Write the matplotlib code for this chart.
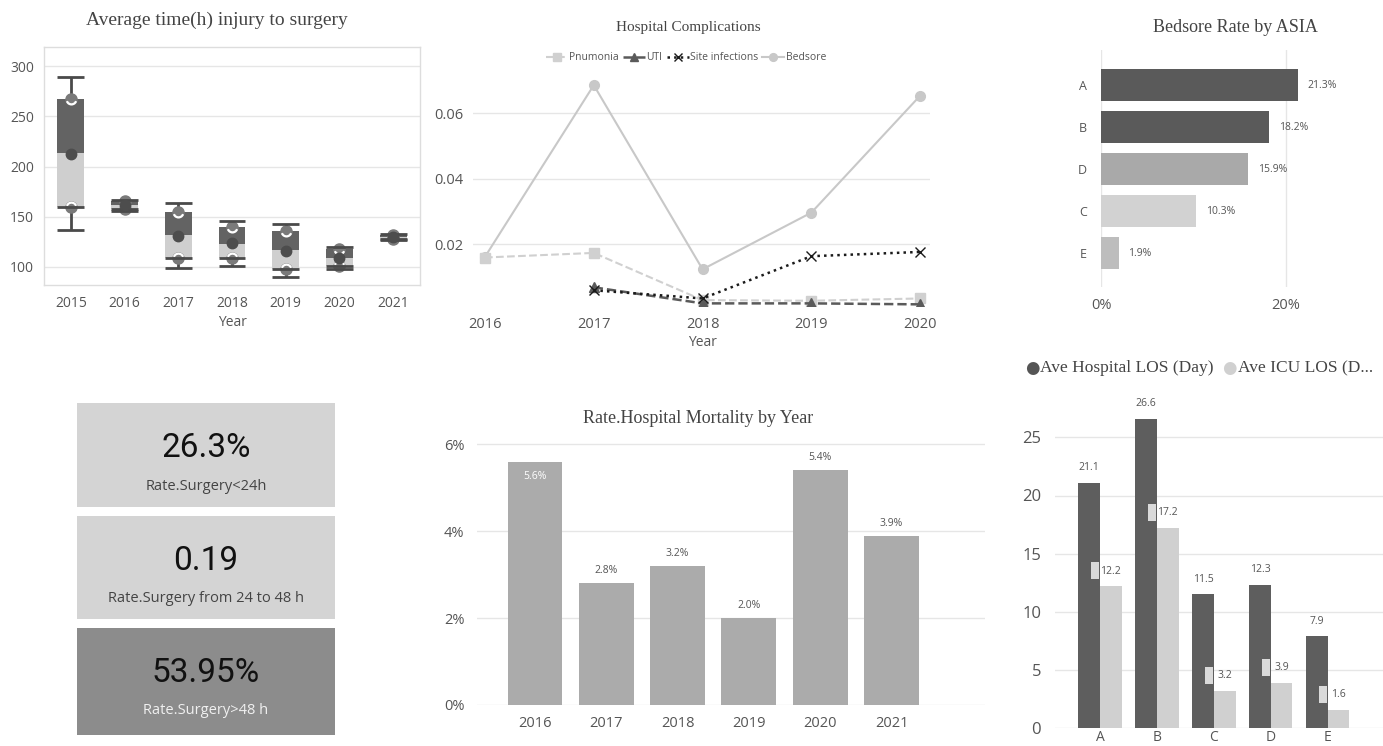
import numpy as np
import matplotlib
matplotlib.use("Agg")
import matplotlib.pyplot as plt
from matplotlib.patches import Rectangle
from matplotlib.path import Path

# ---------------- data ----------------
box_years = ['2015', '2016', '2017', '2018', '2019', '2020', '2021']
box_whislo = [137, 156, 99, 101, 90, 98, 127]
box_q1 = [160, 158, 109, 109, 98, 101, 128]
box_med = [213, 162, 132, 123, 117, 109, 130]
box_q3 = [267, 166, 155, 140, 136, 118, 132]
box_whishi = [289, 167, 164, 146, 143, 120, 133]
box_mean = [212, 162, 131, 124, 116, 109, 130]

comp_years = [2016, 2017, 2018, 2019, 2020]
pnumonia = [0.0160, 0.0174, 0.0030, 0.0028, 0.0035]
uti = [np.nan, 0.0069, 0.0020, 0.0020, 0.0017]
site_inf = [np.nan, 0.0060, 0.0035, 0.0164, 0.0177]
bedsore = [0.0162, 0.0686, 0.0124, 0.0297, 0.0654]

asia_cats = ['A', 'B', 'D', 'C', 'E']
asia_rates = [0.213, 0.182, 0.159, 0.103, 0.019]

kpi_values = ['26.3%', '0.19', '53.95%']
kpi_labels = ['Rate.Surgery<24h', 'Rate.Surgery from 24 to 48 h', 'Rate.Surgery>48 h']

mort_years = ['2016', '2017', '2018', '2019', '2020', '2021']
mort_rates = [0.056, 0.028, 0.032, 0.020, 0.054, 0.039]

los_cats = ['A', 'B', 'C', 'D', 'E']
los_hosp = [21.1, 26.6, 11.5, 12.3, 7.9]
los_icu = [12.2, 17.2, 3.2, 3.9, 1.6]

# ---------------- layout helpers ----------------
W, H = 1383, 746
fig = plt.figure(figsize=(W / 100, H / 100), dpi=100)
fig.patch.set_facecolor('white')

def px(l, t, r, b):
    return [l / W, 1 - b / H, (r - l) / W, (b - t) / H]

def fx(x):
    return x / W

def fy(y):
    return 1 - y / H

TITLE_FONT = ['Liberation Serif', 'DejaVu Serif']
SANS = ['Open Sans', 'DejaVu Sans']
TICK_C = '#555555'
GRID_C = '#e6e6e6'
DARK = '#636363'
LIGHT = '#cfcfcf'

def clean(ax):
    for s in ax.spines.values():
        s.set_visible(False)
    ax.tick_params(length=0, colors=TICK_C)

# ---------------- box plot ----------------
ax1 = fig.add_axes(px(44, 47, 420, 285))
clean(ax1)
for s in ax1.spines.values():
    s.set_visible(True)
    s.set_color('#dddddd')
    s.set_linewidth(1.0)
ax1.set_xlim(-0.5, 6.5)
ax1.set_ylim(82, 319)
ax1.set_yticks([100, 150, 200, 250, 300])
ax1.yaxis.grid(True, color=GRID_C, lw=1)
ax1.set_axisbelow(True)
x = np.arange(len(box_years))
bw = 0.5
q1 = np.array(box_q1); med = np.array(box_med); q3 = np.array(box_q3)
ax1.bar(x, med - q1, bottom=q1, width=bw, color=LIGHT, zorder=2)
ax1.bar(x, q3 - med, bottom=med, width=bw, color=DARK, zorder=2)
ax1.vlines(x, box_q3, box_whishi, color='#4a4a4a', lw=2, zorder=3)
ax1.vlines(x, box_whislo, box_q1, color='#4a4a4a', lw=2, zorder=3)
ax1.plot(x, box_q3, 'o', ms=8, color='#7a7a7a', zorder=4)
ax1.plot(x, box_q1, 'o', ms=8, color='#7a7a7a', zorder=4)
arc_lo = Path.arc(200, 340)
arc_hi = Path.arc(20, 160)
ax1.plot(x, box_q3, ls='none', marker=arc_lo, ms=7, mfc='none', mec='white', mew=1.6, zorder=5)
ax1.plot(x, box_q1, ls='none', marker=arc_hi, ms=7, mfc='none', mec='white', mew=1.6, zorder=5)
for xi, lo, hi, qq in zip(x, box_whislo, box_whishi, box_q1):
    ax1.hlines([lo, hi, qq], xi - bw / 2, xi + bw / 2, color='#4a4a4a', lw=2, zorder=6)
ax1.plot(x, box_mean, 'o', ms=7.5, color='#4d4d4d', zorder=7)
ax1.set_xticks(x)
ax1.set_xticklabels(box_years)
ax1.tick_params(axis='x', pad=8)
ax1.tick_params(axis='y', pad=7)
for lab in ax1.get_xticklabels() + ax1.get_yticklabels():
    lab.set_fontsize(10); lab.set_family(SANS)
fig.text(fx(217), fy(20), 'Average time(h) injury to surgery', ha='center', va='center',
         fontsize=14, family=TITLE_FONT, color='#444444')
fig.text(fx(233), fy(323), 'Year', ha='center', va='center', fontsize=10, family=SANS, color=TICK_C)

# ---------------- hospital complications ----------------
ax2 = fig.add_axes(px(473, 74, 930, 306))
clean(ax2)
ax2.set_xlim(2015.89, 2020.09)
ax2.set_ylim(0.0012, 0.0720)
ax2.set_yticks([0.02, 0.04, 0.06])
ax2.set_yticklabels(['0.02', '0.04', '0.06'])
ax2.set_xticks(comp_years)
ax2.set_xticklabels([str(y) for y in comp_years])
ax2.yaxis.grid(True, color=GRID_C, lw=1)
ax2.set_axisbelow(True)
ax2.plot(comp_years, bedsore, '-o', color='#c8c8c8', lw=1.5, ms=7, label='Bedsore', zorder=2)
ax2.plot(comp_years, pnumonia, '--s', color='#d0d0d0', lw=1.5, ms=7, label='Pnumonia', zorder=3)
ax2.plot(comp_years, uti, '--^', color='#5a5a5a', lw=1.8, ms=7, label='UTI', zorder=4)
ax2.plot(comp_years, site_inf, ':x', color='#1a1a1a', lw=1.8, ms=7, mew=1.0, label='Site infections', zorder=5)
ax2.tick_params(axis='x', pad=8)
ax2.tick_params(axis='y', pad=7)
for lab in ax2.get_xticklabels() + ax2.get_yticklabels():
    lab.set_fontsize(10.5); lab.set_family(SANS)
h, l = ax2.get_legend_handles_labels()
order = [1, 2, 3, 0]
ax2.legend([h[i] for i in order], [l[i] for i in order], ncol=4, frameon=False,
           loc='center', bbox_to_anchor=(fx(686), fy(58)), bbox_transform=fig.transFigure,
           prop={'family': SANS, 'size': 7.5}, handlelength=2.1, handletextpad=0.15,
           columnspacing=0.4, labelcolor='#555555', markerscale=0.8)
fig.text(fx(688), fy(28), 'Hospital Complications', ha='center', va='center',
         fontsize=11, family=TITLE_FONT, color='#444444')
fig.text(fx(702), fy(342), 'Year', ha='center', va='center', fontsize=10, family=SANS, color=TICK_C)

# ---------------- bedsore rate by ASIA ----------------
ax3 = fig.add_axes(px(1101, 50, 1375, 287))
clean(ax3)
ax3.set_xlim(0, 0.20 * (1375 - 1101) / 185)
ax3.set_ylim(4.8, -0.833)
ya = np.arange(len(asia_cats))
asia_colors = ['#5a5a5a', '#5a5a5a', '#a9a9a9', '#d2d2d2', '#bdbdbd']
ax3.barh(ya, asia_rates, height=0.76, color=asia_colors, zorder=2)
ax3.set_xticks([0, 0.2])
ax3.set_xticklabels(['0%', '20%'])
ax3.xaxis.grid(True, color=GRID_C, lw=1)
ax3.set_axisbelow(True)
ax3.set_yticks(ya)
ax3.set_yticklabels(asia_cats)
ax3.tick_params(axis='x', pad=8)
ax3.tick_params(axis='y', pad=10)
for lab in ax3.get_xticklabels():
    lab.set_fontsize(10.5); lab.set_family(SANS)
for lab in ax3.get_yticklabels():
    lab.set_fontsize(9); lab.set_family(SANS)
for yi, v in zip(ya, asia_rates):
    ax3.annotate(f'{v * 100:.1f}%', (v, yi), xytext=(7, 0), textcoords='offset points',
                 ha='left', va='center', fontsize=7.5, family=SANS, color='#555555')
fig.text(fx(1235), fy(28), 'Bedsore Rate by ASIA', ha='center', va='center',
         fontsize=13, family=TITLE_FONT, color='#444444')

# ---------------- KPI cards ----------------
card_boxes = [(77, 403, 335, 507), (77, 516, 335, 619), (77, 628, 335, 735)]
card_colors = ['#d4d4d4', '#d4d4d4', '#8c8c8c']
label_colors = ['#444444', '#444444', '#f0f0f0']
for (l, t, r, b), c, val, lab, lc in zip(card_boxes, card_colors, kpi_values, kpi_labels, label_colors):
    fig.patches.append(Rectangle((fx(l), fy(b)), fx(r) - fx(l), fy(t) - fy(b),
                                 transform=fig.transFigure, facecolor=c, edgecolor='none', zorder=0))
    cx = (l + r) / 2
    fig.text(fx(cx), fy(t + 45), val, ha='center', va='center', fontsize=24,
             family=['Roboto', 'DejaVu Sans'], color='#111111')
    fig.text(fx(cx), fy(t + 83), lab, ha='center', va='center', fontsize=10.5,
             family=SANS, color=lc)

# ---------------- mortality ----------------
ax5 = fig.add_axes(px(477, 440, 985, 705))
clean(ax5)
xm = np.arange(len(mort_years))
ax5.set_xlim(-0.813, 6.31)
ax5.set_ylim(0, 0.061)
ax5.bar(xm, mort_rates, width=0.77, color='#ababab', zorder=2)
ax5.set_yticks([0, 0.02, 0.04, 0.06])
ax5.set_yticklabels(['0%', '2%', '4%', '6%'])
ax5.yaxis.grid(True, color=GRID_C, lw=1)
ax5.set_axisbelow(True)
ax5.set_xticks(xm)
ax5.set_xticklabels(mort_years)
ax5.tick_params(axis='x', pad=8)
ax5.tick_params(axis='y', pad=9)
for lab in ax5.get_xticklabels() + ax5.get_yticklabels():
    lab.set_fontsize(10.5); lab.set_family(SANS)
vmax = max(mort_rates)
for xi, v in zip(xm, mort_rates):
    if v == vmax:
        ax5.annotate(f'{v * 100:.1f}%', (xi, v), xytext=(0, -11), textcoords='offset points',
                     ha='center', va='center', fontsize=7.5, family=SANS, color='white')
    else:
        ax5.annotate(f'{v * 100:.1f}%', (xi, v), xytext=(0, 9), textcoords='offset points',
                     ha='center', va='center', fontsize=7.5, family=SANS, color='#555555')
fig.text(fx(698), fy(418), 'Rate.Hospital Mortality by Year', ha='center', va='center',
         fontsize=13, family=TITLE_FONT, color='#444444')

# ---------------- LOS ----------------
ax6 = fig.add_axes(px(1055, 400, 1383, 728.3))
clean(ax6)
xl = np.arange(len(los_cats))
ax6.set_xlim(-0.79, 4.97)
ax6.set_ylim(0, (728.3 - 400) / 11.64)
bw6 = 0.38
ax6.bar(xl - bw6 / 2, los_hosp, width=bw6, color='#5e5e5e', zorder=2)
ax6.bar(xl + bw6 / 2, los_icu, width=bw6, color='#d0d0d0', zorder=2)
ax6.set_yticks([0, 5, 10, 15, 20, 25])
ax6.yaxis.grid(True, color=GRID_C, lw=1)
ax6.set_axisbelow(True)
ax6.set_xticks(xl)
ax6.set_xticklabels(los_cats)
ax6.tick_params(axis='x', pad=1)
ax6.tick_params(axis='y', pad=10)
for lab in ax6.get_yticklabels():
    lab.set_fontsize(12); lab.set_family(SANS)
for lab in ax6.get_xticklabels():
    lab.set_fontsize(10); lab.set_family(SANS)
for xi, v in zip(xl, los_hosp):
    ax6.annotate(f'{v:.1f}', (xi - bw6 / 2, v), xytext=(0, 11), textcoords='offset points',
                 ha='center', va='center', fontsize=7.5, family=SANS, color='#555555')
for xi, v in zip(xl, los_icu):
    ax6.annotate(f'{v:.1f}', (xi + bw6 / 2, v), xytext=(0, 11), textcoords='offset points',
                 ha='center', va='center', fontsize=7.5, family=SANS, color='#555555', zorder=6)
    ax6.add_patch(Rectangle((xi - 0.16, v + 0.6), 0.15, 1.45, facecolor='#dadada',
                            edgecolor='none', zorder=5))
fig.text(fx(1025), fy(368), '●', ha='left', va='center', fontsize=12, color='#555555',
         family=['DejaVu Sans'])
fig.text(fx(1040), fy(368), 'Ave Hospital LOS (Day)', ha='left', va='center', fontsize=12.5,
         family=TITLE_FONT, color='#444444')
fig.text(fx(1222), fy(368), '●', ha='left', va='center', fontsize=12, color='#d0d0d0',
         family=['DejaVu Sans'])
fig.text(fx(1238), fy(368), 'Ave ICU LOS (D...', ha='left', va='center', fontsize=12.5,
         family=TITLE_FONT, color='#444444')

fig.savefig('out.png', dpi=100, facecolor='white')
